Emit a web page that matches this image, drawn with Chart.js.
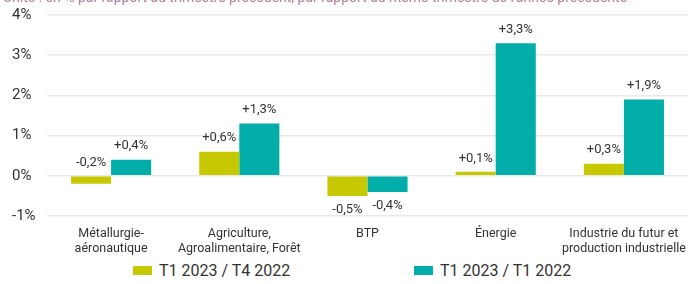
<!DOCTYPE html>
<html>
<head>
<meta charset="utf-8">
<script src="https://cdn.jsdelivr.net/npm/chart.js@4"></script>
<style>
  html, body { margin: 0; padding: 0; background: #fff; }
  #wrap { position: relative; width: 689px; height: 284px; overflow: hidden; }
  #chart { position: absolute; left: 0; top: 0; }
  #legend { position: absolute; left: 0; top: 261px; width: 689px; height: 22px;
            font-family: 'Roboto', sans-serif; font-size: 16px; color: #333; }
  .item { position: absolute; top: 0; display: flex; align-items: center; }
  .box { width: 19px; height: 9px; margin-right: 7px; }
</style>
</head>
<body>
<div id="wrap">
  <canvas id="chart" width="689" height="260"></canvas>
  <div id="legend"></div>
</div>
<script>
const categories = [
  ['Métallurgie-', 'aéronautique'],
  ['Agriculture,', 'Agroalimentaire, Forêt'],
  'BTP',
  'Énergie',
  ['Industrie du futur et', 'production industrielle']
];
const seriesNames = ['T1 2023 / T4 2022', 'T1 2023 / T1 2022'];
const vsPrevQuarter = [-0.2, 0.6, -0.5, 0.1, 0.3];
const vsPrevYear = [0.4, 1.3, -0.4, 3.3, 1.9];
const seriesColors = ['#c6c800', '#00ada8'];
const yTicks = [-1, 0, 1, 2, 3, 4];
const subtitle = "Unité : en % par rapport au trimestre précédent, par rapport au même trimestre de l'année précédente";

const FONT = "'Roboto', sans-serif";

function fmt(v) {
  return (v > 0 ? '+' : '') + v.toFixed(1).replace('.', ',') + '%';
}

const valueLabels = {
  id: 'valueLabels',
  afterDatasetsDraw(chart) {
    const ctx = chart.ctx;
    const zero = chart.scales.y.getPixelForValue(0);
    ctx.save();
    ctx.font = '13px ' + FONT;
    ctx.fillStyle = '#333';
    ctx.textAlign = 'center';
    chart.data.datasets.forEach((ds, i) => {
      chart.getDatasetMeta(i).data.forEach((bar, j) => {
        const v = ds.data[j];
        if (v < -0.3) {
          ctx.textBaseline = 'top';
          ctx.fillText(fmt(v), bar.x, bar.y + 7);
        } else {
          ctx.textBaseline = 'bottom';
          ctx.fillText(fmt(v), bar.x, Math.min(bar.y, zero) - 7);
        }
      });
    });
    ctx.restore();
  }
};

const topNote = {
  id: 'topNote',
  beforeDraw(chart) {
    const ctx = chart.ctx;
    ctx.save();
    ctx.font = '14px ' + FONT;
    ctx.fillStyle = '#b27f9d';
    ctx.textBaseline = 'bottom';
    ctx.fillText(subtitle, 3, 5);
    ctx.restore();
  }
};

new Chart(document.getElementById('chart'), {
  type: 'bar',
  data: {
    labels: categories,
    datasets: [
      { label: seriesNames[0], data: vsPrevQuarter, backgroundColor: seriesColors[0] },
      { label: seriesNames[1], data: vsPrevYear, backgroundColor: seriesColors[1] }
    ]
  },
  options: {
    responsive: false,
    animation: false,
    layout: { padding: { top: 15, left: 12, right: 1, bottom: 0 } },
    categoryPercentage: 0.625,
    barPercentage: 1,
    plugins: { legend: { display: false }, tooltip: { enabled: false } },
    scales: {
      x: {
        afterFit: s => { s.height = 44; },
        grid: { display: false },
        border: { display: false },
        ticks: { color: '#333', font: { family: FONT, size: 12.5, lineHeight: 1.2 }, padding: 2,
                 maxRotation: 0, autoSkip: false }
      },
      y: {
        min: yTicks[0],
        max: yTicks[yTicks.length - 1],
        afterBuildTicks: s => { s.ticks = yTicks.map(v => ({ value: v })); },
        afterFit: s => { s.width = 35; },
        grid: { color: '#e9e9e9', lineWidth: 1.5, drawTicks: false },
        border: { display: false },
        ticks: {
          color: '#333', font: { family: FONT, size: 15 }, crossAlign: 'far', padding: 0,
          callback: v => v + '%'
        }
      }
    }
  },
  plugins: [valueLabels, topNote]
});

const legend = document.getElementById('legend');
const legendX = [133, 414];
seriesNames.forEach((name, i) => {
  const el = document.createElement('div');
  el.className = 'item';
  el.style.left = legendX[i] + 'px';
  el.innerHTML = '<span class="box" style="background:' + seriesColors[i] + '"></span>' + name;
  legend.appendChild(el);
});
</script>
</body>
</html>
